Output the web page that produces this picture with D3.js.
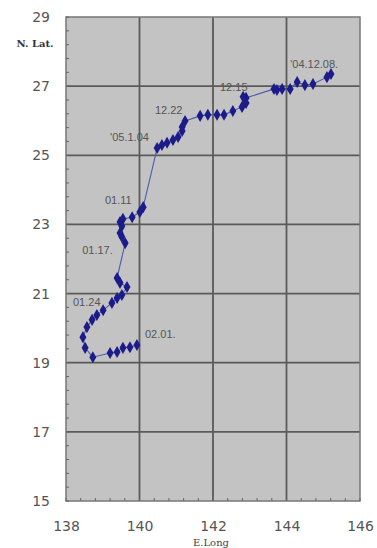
<!DOCTYPE html>
<html>
<head>
<meta charset="utf-8">
<script src="https://cdn.jsdelivr.net/npm/d3@7"></script>
<style>
  body { margin: 0; background: #fff; }
  svg { display: block; }
</style>
</head>
<body>
<svg id="chart" width="377" height="548"></svg>
<script>
// track positions (E.Long, N.Lat), from '04.12.08 to 02.01
var lons = [145.21, 145.10, 144.72, 144.50, 144.29, 144.10, 143.88, 143.74, 143.66,
            142.90, 142.82, 142.90, 142.79, 142.54, 142.30, 142.11, 141.86, 141.65,
            141.24, 141.16, 141.16, 141.05, 140.91, 140.75, 140.61, 140.48,
            140.10, 140.01, 139.80, 139.55, 139.47, 139.52, 139.47, 139.52, 139.61,
            139.39, 139.47, 139.66, 139.52, 139.39, 139.25, 139.01, 138.84, 138.71,
            138.57, 138.46, 138.52, 138.73, 139.20, 139.39, 139.55, 139.74, 139.93];
var lats = [27.35, 27.26, 27.06, 27.03, 27.12, 26.92, 26.92, 26.89, 26.92,
            26.66, 26.69, 26.51, 26.40, 26.28, 26.17, 26.17, 26.17, 26.14,
            25.99, 25.82, 25.70, 25.53, 25.44, 25.36, 25.30, 25.21,
            23.50, 23.36, 23.21, 23.16, 23.07, 22.95, 22.75, 22.64, 22.46,
            21.45, 21.31, 21.19, 20.96, 20.87, 20.73, 20.52, 20.38, 20.24,
            20.03, 19.74, 19.43, 19.16, 19.28, 19.31, 19.43, 19.45, 19.51];

// date labels and where they sit
var labelTexts = ["'04.12.08.", "12.15", "12.22", "'05.1.04", "01.11", "01.17.", "01.24", "02.01."];
var labelLons  = [144.10, 142.19, 140.42, 139.20, 139.06, 138.44, 138.19, 140.15];
var labelLats  = [27.52, 26.86, 26.19, 25.41, 23.59, 22.14, 20.64, 19.71];

var xTicks = [138, 140, 142, 144, 146];
var yTicks = [15, 17, 19, 21, 23, 25, 27, 29];

var svg = d3.select("#chart");
var x = d3.scaleLinear().domain([138, 146]).range([66, 360]);
var y = d3.scaleLinear().domain([15, 29]).range([501, 17]);

// plot background
svg.append("rect")
  .attr("x", x(138)).attr("y", y(29))
  .attr("width", x(146) - x(138)).attr("height", y(15) - y(29))
  .attr("fill", "#c3c3c3");

// grid
svg.append("g").selectAll("line").data(xTicks.slice(1, -1)).join("line")
  .attr("x1", d => x(d)).attr("x2", d => x(d))
  .attr("y1", y(29)).attr("y2", y(15))
  .attr("stroke", "#5a5a5a").attr("stroke-width", 1.8);
svg.append("g").selectAll("line").data(yTicks.slice(1, -1)).join("line")
  .attr("x1", x(138)).attr("x2", x(146))
  .attr("y1", d => y(d)).attr("y2", d => y(d))
  .attr("stroke", "#5a5a5a").attr("stroke-width", 1.8);

// frame
svg.append("rect")
  .attr("x", x(138)).attr("y", y(29))
  .attr("width", x(146) - x(138)).attr("height", y(15) - y(29))
  .attr("fill", "none").attr("stroke", "#777").attr("stroke-width", 1.5);

// axes with small inward minor ticks
var minorX = d3.range(138, 146.01, 0.4);
var minorY = d3.range(15, 29.01, 0.4);
svg.append("g").selectAll("line").data(minorX).join("line")
  .attr("x1", d => x(d)).attr("x2", d => x(d))
  .attr("y1", y(15)).attr("y2", y(15) - 3)
  .attr("stroke", "#666").attr("stroke-width", 1);
svg.append("g").selectAll("line").data(minorY).join("line")
  .attr("x1", x(138)).attr("x2", x(138) + 3)
  .attr("y1", d => y(d)).attr("y2", d => y(d))
  .attr("stroke", "#666").attr("stroke-width", 1);

var xAxis = svg.append("g")
  .attr("transform", "translate(0," + (y(15) + 1) + ")")
  .call(d3.axisBottom(x).tickValues(xTicks).tickSize(0).tickPadding(19));
var yAxis = svg.append("g")
  .attr("transform", "translate(" + (x(138) - 1) + ",0)")
  .call(d3.axisLeft(y).tickValues(yTicks).tickSize(0).tickPadding(15));
[xAxis, yAxis].forEach(function (a) {
  a.select(".domain").remove();
  a.selectAll("text")
    .attr("fill", "#555")
    .style("font-family", "'DejaVu Sans', sans-serif")
    .style("font-size", "14px");
});

// axis titles
svg.append("text")
  .attr("x", 35).attr("y", 47)
  .attr("text-anchor", "middle")
  .attr("fill", "#333")
  .style("font-family", "'DejaVu Serif', serif")
  .style("font-size", "10px")
  .style("font-weight", "bold")
  .text("N. Lat.");
svg.append("text")
  .attr("x", 211).attr("y", 546)
  .attr("text-anchor", "middle")
  .attr("fill", "#444")
  .style("font-family", "'DejaVu Serif', serif")
  .style("font-size", "10px")
  .text("E.Long");

// track
var pts = d3.zip(lons, lats);
svg.append("path")
  .datum(pts)
  .attr("d", d3.line().x(d => x(d[0])).y(d => y(d[1])))
  .attr("fill", "none")
  .attr("stroke", "#4a5ab0")
  .attr("stroke-width", 1.1);

svg.append("g").selectAll("path").data(pts).join("path")
  .attr("transform", d => "translate(" + x(d[0]) + "," + y(d[1]) + ")")
  .attr("d", d3.symbol().type(d3.symbolDiamond).size(42))
  .attr("fill", "#1b1b8a");

// date labels
svg.append("g").selectAll("text").data(labelTexts).join("text")
  .attr("x", (d, i) => x(labelLons[i]))
  .attr("y", (d, i) => y(labelLats[i]))
  .attr("fill", "#555")
  .style("font-family", "'Liberation Sans Narrow', 'Liberation Sans', sans-serif")
  .style("font-size", "11px")
  .text(d => d);
</script>
</body>
</html>
